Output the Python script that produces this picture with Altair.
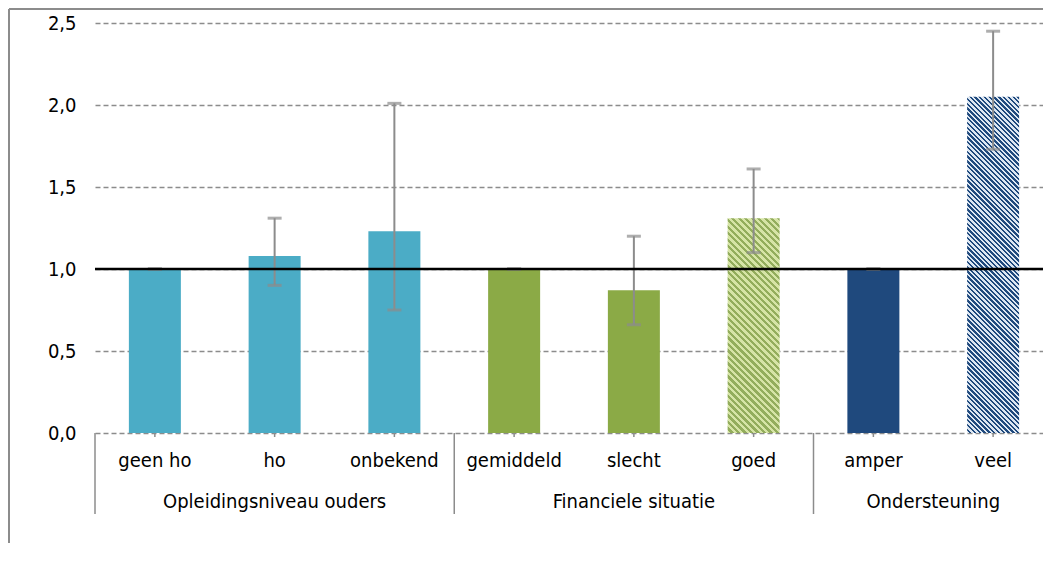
import altair as alt
import pandas as pd

# ---- data ----
categories = ["geen ho", "ho", "onbekend", "gemiddeld", "slecht", "goed", "amper", "veel"]
groups = ["Opleidingsniveau ouders"] * 3 + ["Financiele situatie"] * 3 + ["Ondersteuning"] * 2
values = [1.00, 1.08, 1.23, 1.00, 0.87, 1.31, 1.00, 2.05]
ci_low = [1.00, 0.90, 0.75, 1.00, 0.66, 1.10, 1.00, 1.73]
ci_high = [1.00, 1.31, 2.01, 1.00, 1.20, 1.61, 1.00, 2.45]
group_names = ["Opleidingsniveau ouders", "Financiele situatie", "Ondersteuning"]
group_first = ["geen ho", "gemiddeld", "amper"]
y_ticks = [0, 0.5, 1.0, 1.5, 2.0, 2.5]
reference_value = 1.0

# ---- style ----
W, H = 958, 410
YMAX = 2.5
BAR_W = 52
FONT = "DejaVu Sans Condensed, DejaVu Sans, sans-serif"
GRAY = "#8c8c8c"
solid_colors = {
    "geen ho": "#4bacc6", "ho": "#4bacc6", "onbekend": "#4bacc6",
    "gemiddeld": "#8baa46", "slecht": "#8baa46", "amper": "#1f497d",
}
hatched = {"goed": ("#d6e4a6", "#93ad5c", 6.5), "veel": ("#dde7f2", "#1f497d", 4.8)}

df = pd.DataFrame({"cat": categories, "grp": groups, "val": values,
                   "lo": ci_low, "hi": ci_high})
sep_df = pd.DataFrame({"cat": group_first})
# anchor category for each group label (middle of the group)
lab_mid_df = pd.DataFrame({"cat": ["ho", "slecht"], "grp": group_names[:2]})
lab_edge_df = pd.DataFrame({"cat": ["veel"], "grp": group_names[2:]})

xscale = alt.Scale(domain=categories, paddingInner=0, paddingOuter=0)
xenc = alt.X("cat:N", scale=xscale, axis=None)
yscale = alt.Scale(domain=[0, YMAX], nice=False)


def stripe_gradient(value, c1, c2, period):
    w = BAR_W
    h = value * H / YMAX
    n = int(round((w + h) / period))
    s = (w + h) / (w * w + h * h)
    stops = []
    for i in range(n):
        a, m, b = i / n, (i + 0.5) / n, (i + 1) / n
        stops += [alt.GradientStop(offset=a, color=c1), alt.GradientStop(offset=m, color=c1),
                  alt.GradientStop(offset=m, color=c2), alt.GradientStop(offset=b, color=c2)]
    return alt.LinearGradient(gradient="linear", stops=stops,
                              x1=0, y1=1, x2=s * w, y2=1 - s * h)


base = alt.Chart(df)

solid = base.transform_filter(
    alt.FieldOneOfPredicate(field="cat", oneOf=list(solid_colors))
).mark_bar(width=BAR_W).encode(
    x=alt.X("cat:N", scale=xscale,
            axis=alt.Axis(title=None, labels=False, grid=False,
                          domainColor=GRAY, domainWidth=1.5,
                          tickBand="extent", tickSize=40, tickColor=GRAY, tickWidth=1.5)),
    y=alt.Y("val:Q", scale=yscale,
            axis=alt.Axis(title=None, values=y_ticks, domain=False, ticks=False,
                          labelExpr="replace(format(datum.value, '.1f'), '.', ',')",
                          labelFontSize=20, labelFont=FONT, labelColor="#000000",
                          labelPadding=19, grid=True, gridColor=GRAY,
                          gridDash=[5, 3], gridWidth=1.5)),
    color=alt.Color("cat:N", scale=alt.Scale(domain=list(solid_colors),
                                             range=list(solid_colors.values())),
                    legend=None),
)

hatch_layers = []
for cat, (c1, c2, period) in hatched.items():
    v = values[categories.index(cat)]
    hatch_layers.append(
        base.transform_filter(alt.datum.cat == cat)
        .mark_bar(width=BAR_W, fill=stripe_gradient(v, c1, c2, period))
        .encode(x=xenc, y=alt.Y("val:Q", scale=yscale))
    )

err = base.mark_rule(color=GRAY, strokeWidth=2).encode(
    x=xenc, y=alt.Y("lo:Q", scale=yscale), y2="hi:Q")
cap_hi = base.mark_tick(color=GRAY, size=14, thickness=3).encode(
    x=xenc, y=alt.Y("hi:Q", scale=yscale))
cap_lo = base.mark_tick(color=GRAY, size=14, thickness=3).encode(
    x=xenc, y=alt.Y("lo:Q", scale=yscale))

ref = alt.Chart(alt.Data(values=[{}])).mark_rule(color="#000000", strokeWidth=2.5).encode(
    y=alt.datum(reference_value))

center_ticks = base.mark_rule(color=GRAY, strokeWidth=1.5).encode(
    x=xenc, y=alt.value(H), y2=alt.value(H + 4))

cat_labels = base.mark_text(font=FONT, fontSize=20, color="#000000", baseline="middle").encode(
    x=xenc, y=alt.value(H + 28), text="cat:N")

group_sep = alt.Chart(sep_df).mark_rule(color=GRAY, strokeWidth=1.5).encode(
    x=alt.X("cat:N", scale=xscale, axis=None, bandPosition=0),
    y=alt.value(H), y2=alt.value(H + 81))

group_labels_mid = alt.Chart(lab_mid_df).mark_text(
    font=FONT, fontSize=20, color="#000000", baseline="middle").encode(
    x=alt.X("cat:N", scale=xscale, axis=None, bandPosition=0.5),
    y=alt.value(H + 69), text="grp:N")
group_labels_edge = alt.Chart(lab_edge_df).mark_text(
    font=FONT, fontSize=20, color="#000000", baseline="middle").encode(
    x=alt.X("cat:N", scale=xscale, axis=None, bandPosition=0),
    y=alt.value(H + 69), text="grp:N")

border_left = alt.Chart(alt.Data(values=[{}])).mark_rule(color=GRAY, strokeWidth=2).encode(
    x=alt.value(-86), y=alt.value(-14), y2=alt.value(H + 110))
border_top = alt.Chart(alt.Data(values=[{}])).mark_rule(color=GRAY, strokeWidth=2).encode(
    x=alt.value(-86), x2=alt.value(W - 1), y=alt.value(-14))

chart = alt.layer(
    solid, *hatch_layers, err, cap_hi, cap_lo, ref, center_ticks,
    cat_labels, group_sep, group_labels_mid, group_labels_edge, border_left, border_top
).properties(
    width=W, height=H,
    padding={"left": 0, "top": 0, "right": -12, "bottom": 0}
).configure_view(stroke=None)

chart.save("out.html", embed_options={"renderer": "svg", "actions": False})
